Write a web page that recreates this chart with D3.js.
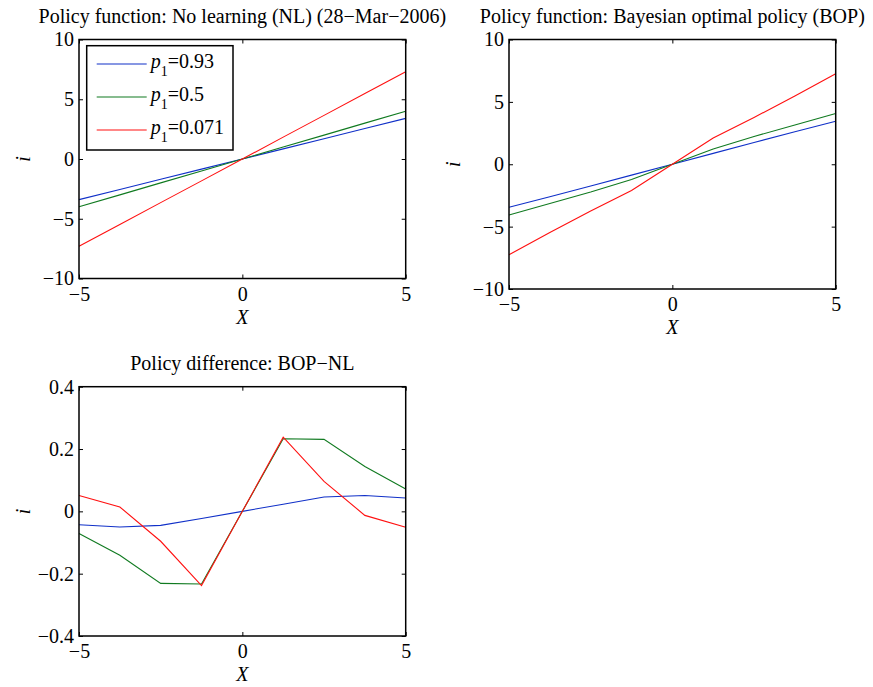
<!DOCTYPE html>
<html>
<head>
<meta charset="utf-8">
<script src="https://cdn.jsdelivr.net/npm/d3@7"></script>
<style>
  body { margin: 0; background: #fff; }
  svg text { font-family: "Liberation Serif", "Times New Roman", serif; }
</style>
</head>
<body>
<script>
// grid of X values shared by every panel
var xs = [-5, -3.75, -2.5, -1.25, 0, 1.25, 2.5, 3.75, 5];

// No learning policy
var nlHigh = [-3.4, -2.55, -1.7, -0.85, 0, 0.85, 1.7, 2.55, 3.4];
var nlMid  = [-4.0, -3.0, -2.0, -1.0, 0, 1.0, 2.0, 3.0, 4.0];
var nlLow  = [-7.3, -5.48, -3.65, -1.83, 0, 1.83, 3.65, 5.48, 7.3];

// Bayesian optimal policy
var bopHigh = [-3.44, -2.6, -1.75, -0.87, 0, 0.87, 1.75, 2.6, 3.44];
var bopMid  = [-4.07, -3.14, -2.23, -1.23, 0, 1.23, 2.23, 3.14, 4.07];
var bopLow  = [-7.25, -5.47, -3.75, -2.1, 0, 2.1, 3.75, 5.47, 7.25];

// difference BOP - NL
var diffHigh = [-0.043, -0.05, -0.045, -0.023, 0, 0.023, 0.046, 0.051, 0.043];
var diffMid  = [-0.071, -0.141, -0.231, -0.233, 0, 0.233, 0.231, 0.144, 0.072];
var diffLow  = [0.051, 0.014, -0.096, -0.238, 0, 0.238, 0.096, -0.013, -0.051];

var seriesNames = ["0.93", "0.5", "0.071"];
var colors = ["#1030c8", "#107a20", "#ff1010"];

var xTicks = [-5, 0, 5];
var yTicksBig = [-10, -5, 0, 5, 10];
var yTicksSmall = [-0.4, -0.2, 0, 0.2, 0.4];

const W = 873, H = 687;
const FS = 20;
const TICK = 4;

var svg = d3.select("body").append("svg")
  .attr("width", W).attr("height", H);

var panels = [
  { title: "Policy function: No learning (NL) (28\u2212Mar\u22122006)",
    left: 79, right: 405.7, top: 39.5, bottom: 278.5,
    ydom: [-10, 10], yticks: yTicksBig, lines: [nlHigh, nlMid, nlLow], legend: true },
  { title: "Policy function: Bayesian optimal policy (BOP)",
    left: 509, right: 835.7, top: 39.5, bottom: 289,
    ydom: [-10, 10], yticks: yTicksBig, lines: [bopHigh, bopMid, bopLow] },
  { title: "Policy difference: BOP\u2212NL",
    left: 79, right: 405.7, top: 386.7, bottom: 636,
    ydom: [-0.4, 0.4], yticks: yTicksSmall, lines: [diffHigh, diffMid, diffLow] }
];

function fmt(d) {
  if (Math.abs(d) < 1e-9) return "0";
  return (d < 0 ? "\u2212" : "") + String(+Math.abs(d).toFixed(2));
}

panels.forEach(function(p){
  var x = d3.scaleLinear().domain([-5, 5]).range([p.left, p.right]);
  var y = d3.scaleLinear().domain(p.ydom).range([p.bottom, p.top]);
  var g = svg.append("g");

  // data lines
  var line = d3.line().x(function(d, i){ return x(xs[i]); }).y(function(d){ return y(d); });
  p.lines.forEach(function(vals, k){
    g.append("path").datum(vals)
      .attr("d", line)
      .attr("fill", "none")
      .attr("stroke", colors[k])
      .attr("stroke-width", 1.1);
  });

  // axes, ticks pointing inward
  g.append("g").attr("transform", "translate(0," + p.bottom + ")")
    .call(d3.axisBottom(x).tickValues(xTicks).tickSize(-TICK).tickPadding(8).tickFormat(fmt));
  g.append("g").attr("transform", "translate(" + p.left + ",0)")
    .call(d3.axisLeft(y).tickValues(p.yticks).tickSize(-TICK).tickPadding(5).tickFormat(fmt));
  g.append("g").attr("transform", "translate(0," + p.top + ")")
    .call(d3.axisTop(x).tickValues(xTicks).tickSize(-TICK).tickFormat(""));
  g.append("g").attr("transform", "translate(" + p.right + ",0)")
    .call(d3.axisRight(y).tickValues(p.yticks).tickSize(-TICK).tickFormat(""));
  g.selectAll(".domain").remove();
  g.selectAll(".tick line").attr("stroke", "#000");
  g.selectAll(".tick text").attr("font-size", FS).attr("fill", "#000")
    .style("font-family", "Liberation Serif");

  g.append("rect")
    .attr("x", p.left).attr("y", p.top)
    .attr("width", p.right - p.left).attr("height", p.bottom - p.top)
    .attr("fill", "none").attr("stroke", "#000").attr("stroke-width", 1.5);

  // title and labels
  g.append("text").attr("x", (p.left + p.right) / 2).attr("y", p.top - 16.5)
    .attr("text-anchor", "middle").attr("font-size", FS).text(p.title);
  g.append("text").attr("x", (p.left + p.right) / 2).attr("y", p.bottom + 45)
    .attr("text-anchor", "middle").attr("font-size", FS).attr("font-style", "italic").text("X");
  g.append("text")
    .attr("transform", "translate(" + (p.left - 49) + "," + (p.top + p.bottom) / 2 + ") rotate(-90)")
    .attr("text-anchor", "middle").attr("font-size", FS).attr("font-style", "italic").text("i");

  if (p.legend) {
    var lg = g.append("g").attr("transform", "translate(" + (p.left + 7.7) + "," + (p.top + 6.2) + ")");
    lg.append("rect").attr("width", 146.3).attr("height", 104.3)
      .attr("fill", "#fff").attr("stroke", "#000").attr("stroke-width", 1.5);
    seriesNames.forEach(function(name, k){
      var ry = 18.3 + k * 33;
      lg.append("line").attr("x1", 10).attr("x2", 60).attr("y1", ry).attr("y2", ry)
        .attr("stroke", colors[k]).attr("stroke-width", 1.1);
      var t = lg.append("text").attr("x", 64).attr("y", ry + 4).attr("font-size", FS);
      t.append("tspan").attr("font-style", "italic").text("p");
      t.append("tspan").attr("font-size", 14).attr("dy", 8).text("1");
      t.append("tspan").attr("dy", -8).text("=" + name);
    });
  }
});
</script>
</body>
</html>
